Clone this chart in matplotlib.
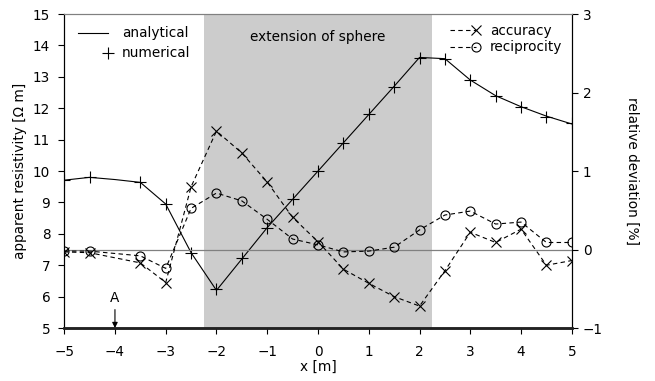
import matplotlib
matplotlib.use("Agg")
import matplotlib.pyplot as plt
from matplotlib.legend_handler import HandlerLine2D
from matplotlib.lines import Line2D

plt.rcParams["font.family"] = ["DejaVu Sans"]
plt.rcParams["font.size"] = 9.8

# measurement positions (no electrode reading at A = -4)
x_meas = [-5, -4.5, -3.5, -3, -2.5, -2, -1.5, -1, -0.5, 0,
          0.5, 1, 1.5, 2, 2.5, 3, 3.5, 4, 4.5, 5]
numerical = [9.71, 9.82, 9.64, 8.94, 7.38, 6.23, 7.22, 8.18, 9.11, 10.0,
             10.91, 11.81, 12.68, 13.59, 13.56, 12.9, 12.39, 12.03, 11.73, 11.52]

x_ana = [-5, -4.5, -4, -3.5, -3, -2.5, -2, -1.5, -1, -0.5, 0,
         0.5, 1, 1.5, 2, 2.5, 3, 3.5, 4, 4.5, 5]
analytical = [9.71, 9.8, 9.73, 9.64, 8.95, 7.4, 6.2, 7.2, 8.2, 9.1, 10.0,
              10.9, 11.8, 12.7, 13.62, 13.58, 12.9, 12.4, 12.05, 11.75, 11.5]

accuracy = [-0.03, -0.04, -0.17, -0.42, 0.8, 1.51, 1.23, 0.86, 0.41, 0.1,
            -0.25, -0.43, -0.6, -0.72, -0.27, 0.22, 0.09, 0.26, -0.2, -0.14]
reciprocity = [-0.02, -0.02, -0.08, -0.24, 0.525, 0.72, 0.62, 0.385, 0.134, 0.06,
               -0.03, -0.02, 0.03, 0.25, 0.44, 0.49, 0.325, 0.35, 0.09, 0.09]

sphere_extent = (-2.25, 2.25)
electrode_a = -4


class MarkerAtEnd(HandlerLine2D):
    # legend marker at the right end of the sample line (gnuplot style)
    def create_artists(self, legend, orig_handle, xdescent, ydescent,
                       width, height, fontsize, trans):
        artists = super().create_artists(legend, orig_handle, xdescent, ydescent,
                                         width, height, fontsize, trans)
        for a in artists:
            if isinstance(a, Line2D):
                a.set_markevery([len(a.get_xdata()) - 1])
        return artists


fig = plt.figure(figsize=(6.55, 3.81), dpi=100)
ax = fig.add_axes([0.098, 0.139, 0.775, 0.824])
ax2 = ax.twinx()

ax.axvspan(*sphere_extent, color="#cccccc", lw=0, zorder=0)
ax.text(0, 14.28, "extension of sphere", ha="center", va="center")

ax.plot(x_ana, analytical, "-", color="black", lw=0.8)
ax.plot(x_meas, numerical, "+", color="black", ms=9, mew=0.8)

dash = (0, (4, 3))
ax2.axhline(0, color="#808080", lw=0.9, zorder=1)
ax2.plot(x_meas, accuracy, color="black", ls=dash, lw=0.8, marker="x",
         ms=6.5, mew=0.8)
ax2.plot(x_meas, reciprocity, color="black", ls=dash, lw=0.8, marker="o",
         ms=6.5, mew=0.8, mfc="none")

ax.annotate("A", xy=(electrode_a, 5), xytext=(electrode_a, 5.72),
            ha="center", va="bottom",
            arrowprops=dict(arrowstyle="-|>", color="black", lw=0.8,
                            mutation_scale=8, shrinkA=1, shrinkB=0))

ax.set_xlim(-5, 5)
ax.set_ylim(5, 15)
ax2.set_ylim(-1, 3)
ax.set_xticks(range(-5, 6))
ax.set_yticks(range(5, 16))
ax2.set_yticks(range(-1, 4))

for a in (ax, ax2):
    a.tick_params(direction="out", length=4, width=0.8, colors="black")
    a.spines["top"].set_color("#808080")
    a.spines["bottom"].set_linewidth(1.8)
    a.spines["bottom"].set_color("#222222")
    a.spines["left"].set_linewidth(0.8)
    a.spines["right"].set_linewidth(0.8)
ax.tick_params(axis="x", pad=8)
ax.tick_params(axis="y", pad=6)
ax2.tick_params(axis="y", pad=4)

ax.set_xlabel("x [m]", labelpad=1)
ax.set_ylabel("apparent resistivity [Ω m]", labelpad=4)
ax2.set_ylabel("relative deviation [%]", rotation=270, labelpad=26)

h_ana = Line2D([], [], color="black", lw=0.8)
h_num = Line2D([], [], color="black", lw=0, marker="+", ms=9, mew=0.8)
leg1 = ax2.legend([h_ana, h_num], ["analytical", "numerical"], loc="upper left",
                  bbox_to_anchor=(0.003, 1.0), frameon=False, handlelength=2.2,
                  handletextpad=1.05, labelspacing=0.45, numpoints=1,
                  handler_map={Line2D: MarkerAtEnd()})

h_acc = Line2D([], [], color="black", ls=dash, lw=0.8, marker="x", ms=6.5, mew=0.8)
h_rec = Line2D([], [], color="black", ls=dash, lw=0.8, marker="o", ms=6.5,
               mew=0.8, mfc="none")
ax2.add_artist(leg1)
ax2.legend([h_acc, h_rec], ["accuracy", "reciprocity"], loc="upper right",
           bbox_to_anchor=(1.0, 1.0), frameon=False, handlelength=1.9,
           handletextpad=1.0, labelspacing=0.2, numpoints=1,
           borderaxespad=0.3, handler_map={Line2D: MarkerAtEnd()})

fig.savefig("out.png", dpi=100)
